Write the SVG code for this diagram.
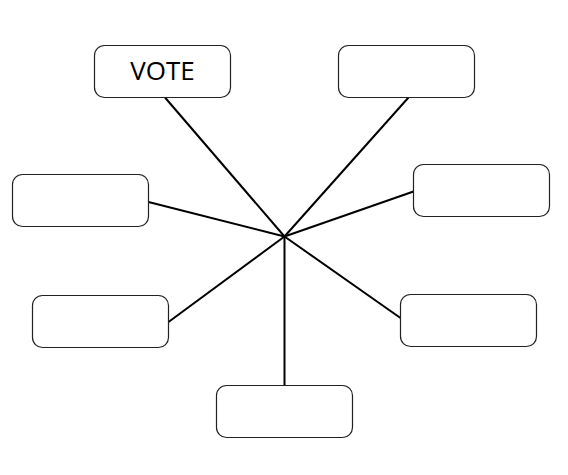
<svg xmlns="http://www.w3.org/2000/svg" width="568" height="475" viewBox="0 0 568 475">
<style>
.box{fill:#fff;stroke:#222;stroke-width:1.2}
.conn line{stroke:#000;stroke-width:2}
.lbl{font-family:"Open Sans","Noto Sans","Liberation Sans",sans-serif;font-size:26px;fill:#000;text-anchor:middle}
</style>
<rect width="568" height="475" fill="#fff"/>
<g id="connectors" class="conn">
<line x1="284.5" y1="236.5" x2="165" y2="97.5"/>
<line x1="284.5" y1="236.5" x2="408.5" y2="97.5"/>
<line x1="284.5" y1="236.5" x2="148.5" y2="202"/>
<line x1="284.5" y1="236.5" x2="413.5" y2="191.5"/>
<line x1="284.5" y1="236.5" x2="168.5" y2="322"/>
<line x1="284.5" y1="236.5" x2="400.5" y2="318"/>
<line x1="284.5" y1="236.5" x2="284.5" y2="385.5"/>
</g>
<g id="node-vote"><rect class="box" x="94.5" y="45.5" width="136" height="52" rx="10"/><text class="lbl" x="162.5" y="80">VOTE</text></g>
<g id="node-top-right"><rect class="box" x="338.5" y="45.5" width="136" height="52" rx="10"/></g>
<g id="node-left"><rect class="box" x="12.5" y="174.5" width="136" height="52" rx="10"/></g>
<g id="node-right"><rect class="box" x="413.5" y="164.5" width="136" height="52" rx="10"/></g>
<g id="node-bottom-left"><rect class="box" x="32.5" y="295.5" width="136" height="52" rx="10"/></g>
<g id="node-bottom-right"><rect class="box" x="400.5" y="294.5" width="136" height="52" rx="10"/></g>
<g id="node-bottom"><rect class="box" x="216.5" y="385.5" width="136" height="52" rx="10"/></g>
</svg>
